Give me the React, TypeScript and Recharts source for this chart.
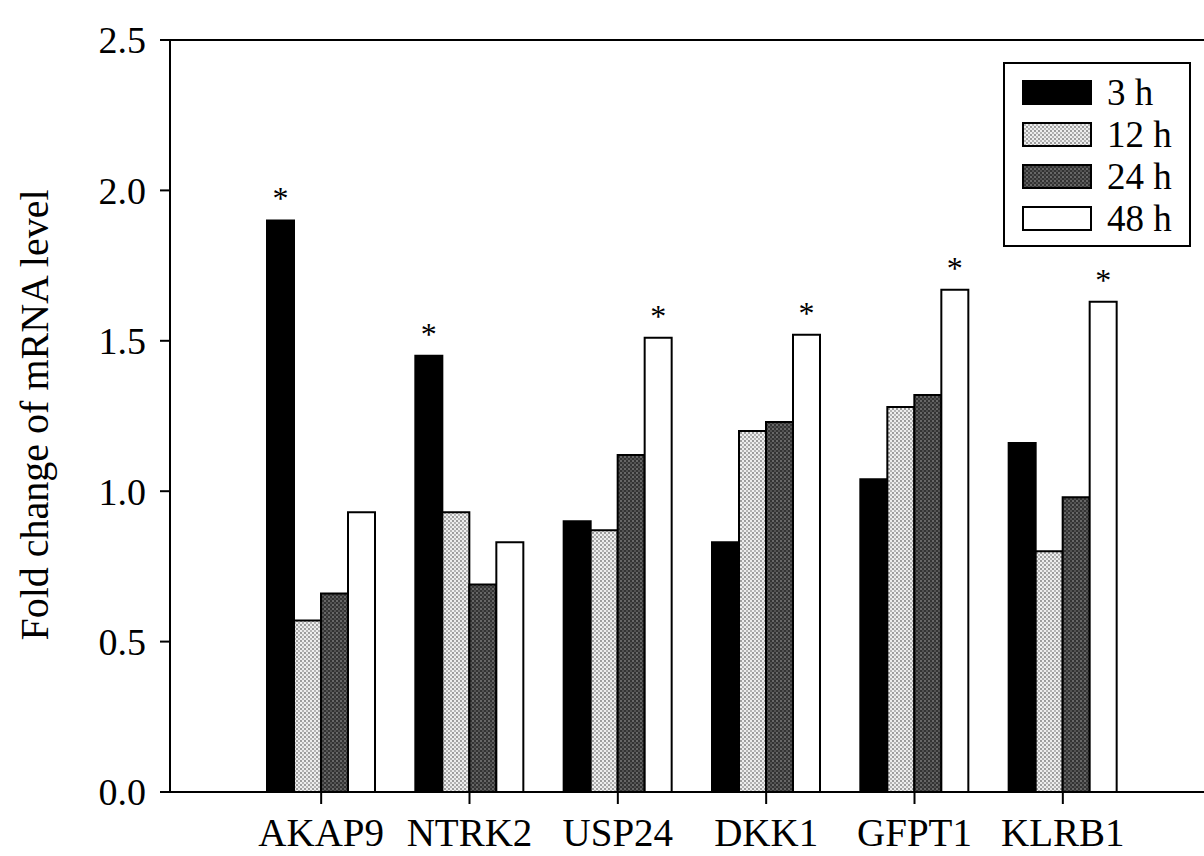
import { Bar, BarChart, LabelList, Legend, ReferenceLine, XAxis, YAxis } from 'recharts';

const genes = ['AKAP9', 'NTRK2', 'USP24', 'DKK1', 'GFPT1', 'KLRB1'];
const h3 = [1.9, 1.45, 0.9, 0.83, 1.04, 1.16];
const h12 = [0.57, 0.93, 0.87, 1.2, 1.28, 0.8];
const h24 = [0.66, 0.69, 1.12, 1.23, 1.32, 0.98];
const h48 = [0.93, 0.83, 1.51, 1.52, 1.67, 1.63];
// significance marks drawn above the bars
const sig3 = ['*', '*', '', '', '', ''];
const sig48 = ['', '', '*', '*', '*', '*'];
const yTicks = [0, 0.5, 1, 1.5, 2, 2.5];

const data = genes.map((gene, i) => ({
  gene,
  h3: h3[i],
  h12: h12[i],
  h24: h24[i],
  h48: h48[i],
  s3: sig3[i],
  s48: sig48[i],
}));

const series = [
  { key: 'h3', name: '3 h', fill: '#000' },
  { key: 'h12', name: '12 h', fill: 'url(#dots-light)' },
  { key: 'h24', name: '24 h', fill: 'url(#dots-dark)' },
  { key: 'h48', name: '48 h', fill: '#fff' },
];

const serif = "'Liberation Serif', 'Times New Roman', serif";

function Patterns() {
  return (
    <svg width={0} height={0} style={{ position: 'absolute' }}>
      <defs>
        <pattern id="dots-light" width={4} height={4} patternUnits="userSpaceOnUse">
          <rect width={4} height={4} fill="#eeeeee" />
          <circle cx={1} cy={1} r={0.9} fill="#777" />
          <circle cx={3} cy={3} r={0.9} fill="#999" />
        </pattern>
        <pattern id="dots-dark" width={4} height={4} patternUnits="userSpaceOnUse">
          <rect width={4} height={4} fill="#333" />
          <circle cx={1} cy={1} r={0.8} fill="#aaa" />
          <circle cx={3} cy={3} r={0.7} fill="#888" />
        </pattern>
      </defs>
    </svg>
  );
}

function LegendBox() {
  return (
    <div style={{ paddingTop: 17, paddingLeft: 17, fontFamily: serif, fontSize: 37, color: '#000' }}>
      {series.map((s) => (
        <div key={s.key} style={{ display: 'flex', alignItems: 'center', height: 23, marginBottom: 19 }}>
          <svg width={70} height={25} style={{ marginRight: 15 }}>
            <rect x={1} y={1} width={68} height={23} fill={s.fill} stroke="#000" strokeWidth={2} />
          </svg>
          <span style={{ lineHeight: '23px', whiteSpace: 'nowrap' }}>{s.name}</span>
        </div>
      ))}
    </div>
  );
}

export default function App() {
  return (
    <div style={{ position: 'relative', width: 1204, height: 856 }}>
      <style>{'body{margin:0}'}</style>
      <Patterns />
      <BarChart
        width={1204}
        height={856}
        data={data}
        margin={{ top: 40, right: 0, bottom: 0, left: 0 }}
        barCategoryGap={20}
        barGap={0}
      >
        <XAxis
          dataKey="gene"
          height={64}
          padding={{ left: 77, right: 67 }}
          axisLine={{ stroke: '#000', strokeWidth: 2 }}
          tickLine={{ stroke: '#000', strokeWidth: 2 }}
          tickSize={12}
          tickMargin={14}
          tick={{ fontSize: 39, fill: '#000', fontFamily: serif }}
          interval={0}
        />
        <YAxis
          width={170}
          domain={[0, 2.5]}
          ticks={yTicks}
          tickFormatter={(v) => Number(v).toFixed(1)}
          axisLine={{ stroke: '#000', strokeWidth: 2 }}
          tickLine={{ stroke: '#000', strokeWidth: 2 }}
          tickSize={10}
          tickMargin={14}
          tick={{ fontSize: 38, fill: '#000', fontFamily: serif }}
          label={{
            content: () => (
              <text
                x={48}
                y={415}
                transform="rotate(-90, 48, 415)"
                textAnchor="middle"
                fontSize={40}
                fontFamily={serif}
                fill="#000"
              >
                Fold change of mRNA level
              </text>
            ),
          }}
        />
        <ReferenceLine y={2.5} stroke="#000" strokeWidth={2} />
        <Legend
          layout="vertical"
          align="center"
          verticalAlign="middle"
          content={() => <LegendBox />}
          wrapperStyle={{
            left: 1003,
            top: 62,
            width: 188,
            height: 185,
            border: '2px solid #000',
            boxSizing: 'border-box',
            background: '#fff',
          }}
        />
        {series.map((s) => (
          <Bar
            key={s.key}
            dataKey={s.key}
            name={s.name}
            fill={s.fill}
            stroke="#000"
            strokeWidth={2}
            isAnimationActive={false}
          >
            {s.key === 'h3' && (
              <LabelList dataKey="s3" position="top" offset={11} fontSize={32} fill="#000" fontFamily={serif} />
            )}
            {s.key === 'h48' && (
              <LabelList dataKey="s48" position="top" offset={11} fontSize={32} fill="#000" fontFamily={serif} />
            )}
          </Bar>
        ))}
      </BarChart>
    </div>
  );
}
